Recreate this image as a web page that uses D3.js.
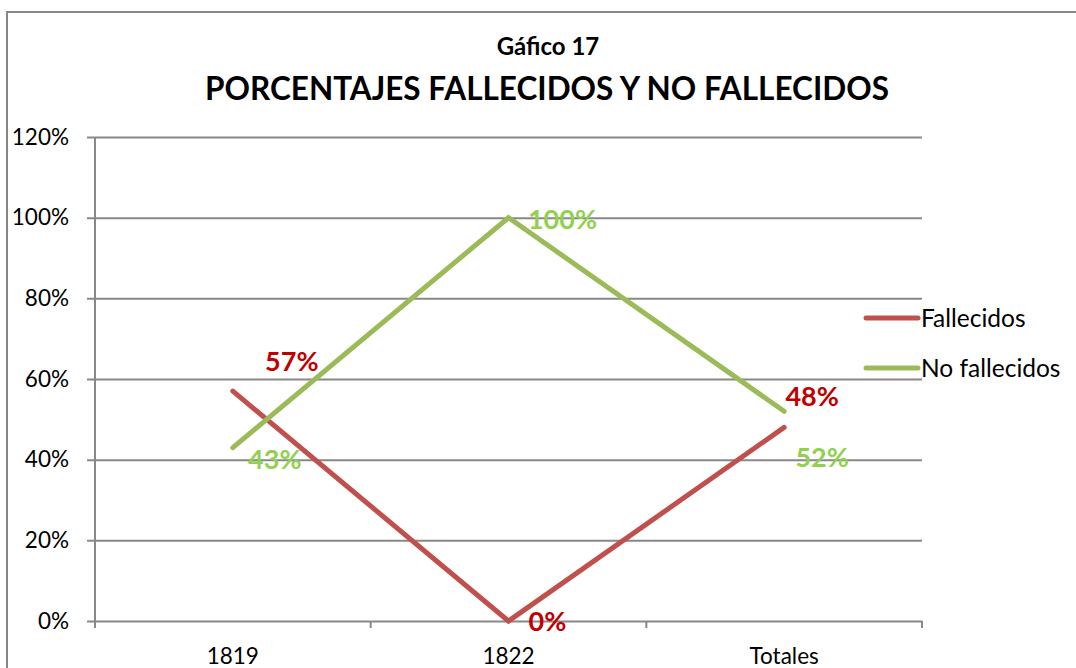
<!DOCTYPE html>
<html>
<head>
<meta charset="utf-8">
<script src="https://cdn.jsdelivr.net/npm/d3@7"></script>
<style>
  body { margin: 0; background: #fff; }
  text { font-family: Lato, "Open Sans", sans-serif; }
</style>
</head>
<body>
<script>
// Data
const categories = ["1819", "1822", "Totales"]
const fallecidos = [0.57, 0, 0.48]
const noFallecidos = [0.43, 1, 0.52]
const yTicks = [0, 0.2, 0.4, 0.6, 0.8, 1, 1.2]
const seriesNames = ["Fallecidos", "No fallecidos"]

// Layout
const W = 1076, H = 668
const plot = { left: 95, right: 922, top: 137, bottom: 621 }
const lineColors = ["#C0504D", "#9BBB59"]
const labelColors = ["#C00000", "#92D050"]
// label offsets (dx, dy) relative to each point, per series
const labelOffsets = [
    [[59, -30], [39, 1], [28, -31]],
    [[42, 12], [54, 2], [38, 46]]
]

const svg = d3.select("body").append("svg")
    .attr("width", W)
    .attr("height", H)

// outer chart border
svg.append("rect")
    .attr("x", 7).attr("y", 12)
    .attr("width", W + 20).attr("height", H + 20)
    .attr("fill", "none")
    .attr("stroke", "#878787")
    .attr("stroke-width", 2)

const x = d3.scaleBand()
    .domain(categories)
    .range([plot.left, plot.right])
    .paddingInner(0).paddingOuter(0)

const y = d3.scaleLinear()
    .domain([0, 1.2])
    .range([plot.bottom, plot.top])

// titles
svg.append("text")
    .attr("x", 548).attr("y", 55)
    .attr("text-anchor", "middle")
    .attr("font-size", 24).attr("font-weight", "bold")
    .text("Gáfico 17")

svg.append("text")
    .attr("x", 547).attr("y", 100)
    .attr("text-anchor", "middle")
    .attr("font-size", 31.5).attr("font-weight", "bold")
    .text("PORCENTAJES FALLECIDOS Y NO FALLECIDOS")

// gridlines + y axis
const yAxis = d3.axisLeft(y)
    .tickValues(yTicks)
    .tickFormat(d3.format(".0%"))
    .tickSize(-(plot.right - plot.left + 8))
    .tickPadding(26)

const gy = svg.append("g")
    .attr("transform", "translate(" + plot.left + ",0)")
    .call(yAxis)
gy.select(".domain").remove()
gy.selectAll(".tick line")
    .attr("x1", -8)
    .attr("x2", plot.right - plot.left)
    .attr("stroke", "#888")
    .attr("stroke-width", 2)
gy.selectAll(".tick text")
    .attr("font-size", 22.5)
    .attr("fill", "#000")
    .style("font-family", "Lato, sans-serif")

svg.append("line")
    .attr("x1", plot.left).attr("x2", plot.left)
    .attr("y1", plot.top).attr("y2", plot.bottom + 7)
    .attr("stroke", "#888").attr("stroke-width", 2)

// x axis
const gx = svg.append("g")
    .attr("transform", "translate(0," + plot.bottom + ")")
gx.selectAll("line.xt")
    .data(categories.concat([null]))
    .join("line")
    .attr("class", "xt")
    .attr("x1", (d, i) => i < categories.length ? x(d) : plot.right)
    .attr("x2", (d, i) => i < categories.length ? x(d) : plot.right)
    .attr("y1", 0).attr("y2", 7)
    .attr("stroke", "#888").attr("stroke-width", 2)
gx.selectAll("text")
    .data(categories)
    .join("text")
    .attr("x", d => x(d) + x.bandwidth() / 2)
    .attr("y", 43)
    .attr("text-anchor", "middle")
    .attr("font-size", 22.5)
    .text(d => d)

// lines
const series = [fallecidos, noFallecidos]
const line = d3.line()
    .x((d, i) => x(categories[i]) + x.bandwidth() / 2)
    .y(d => y(d))

series.forEach(function(vals, s) {
    svg.append("path")
        .datum(vals)
        .attr("d", line)
        .attr("fill", "none")
        .attr("stroke", lineColors[s])
        .attr("stroke-width", 5)
        .attr("stroke-linecap", "round")
        .attr("stroke-linejoin", "miter")
})

// data labels
series.forEach(function(vals, s) {
    svg.selectAll(null)
        .data(vals)
        .join("text")
        .attr("x", (d, i) => x(categories[i]) + x.bandwidth() / 2 + labelOffsets[s][i][0])
        .attr("y", (d, i) => y(d) + labelOffsets[s][i][1])
        .attr("dy", "0.35em")
        .attr("text-anchor", "middle")
        .attr("font-size", 27)
        .attr("font-weight", "bold")
        .attr("fill", labelColors[s])
        .text(d => d3.format(".0%")(d))
})

// legend
const legend = svg.append("g")
seriesNames.forEach(function(name, i) {
    const ly = 318 + i * 50
    legend.append("line")
        .attr("x1", 866).attr("x2", 918)
        .attr("y1", ly).attr("y2", ly)
        .attr("stroke", lineColors[i])
        .attr("stroke-width", 5)
        .attr("stroke-linecap", "round")
    legend.append("text")
        .attr("x", 921).attr("y", ly)
        .attr("dy", "0.35em")
        .attr("font-size", 24.5)
        .text(name)
})
</script>
</body>
</html>
